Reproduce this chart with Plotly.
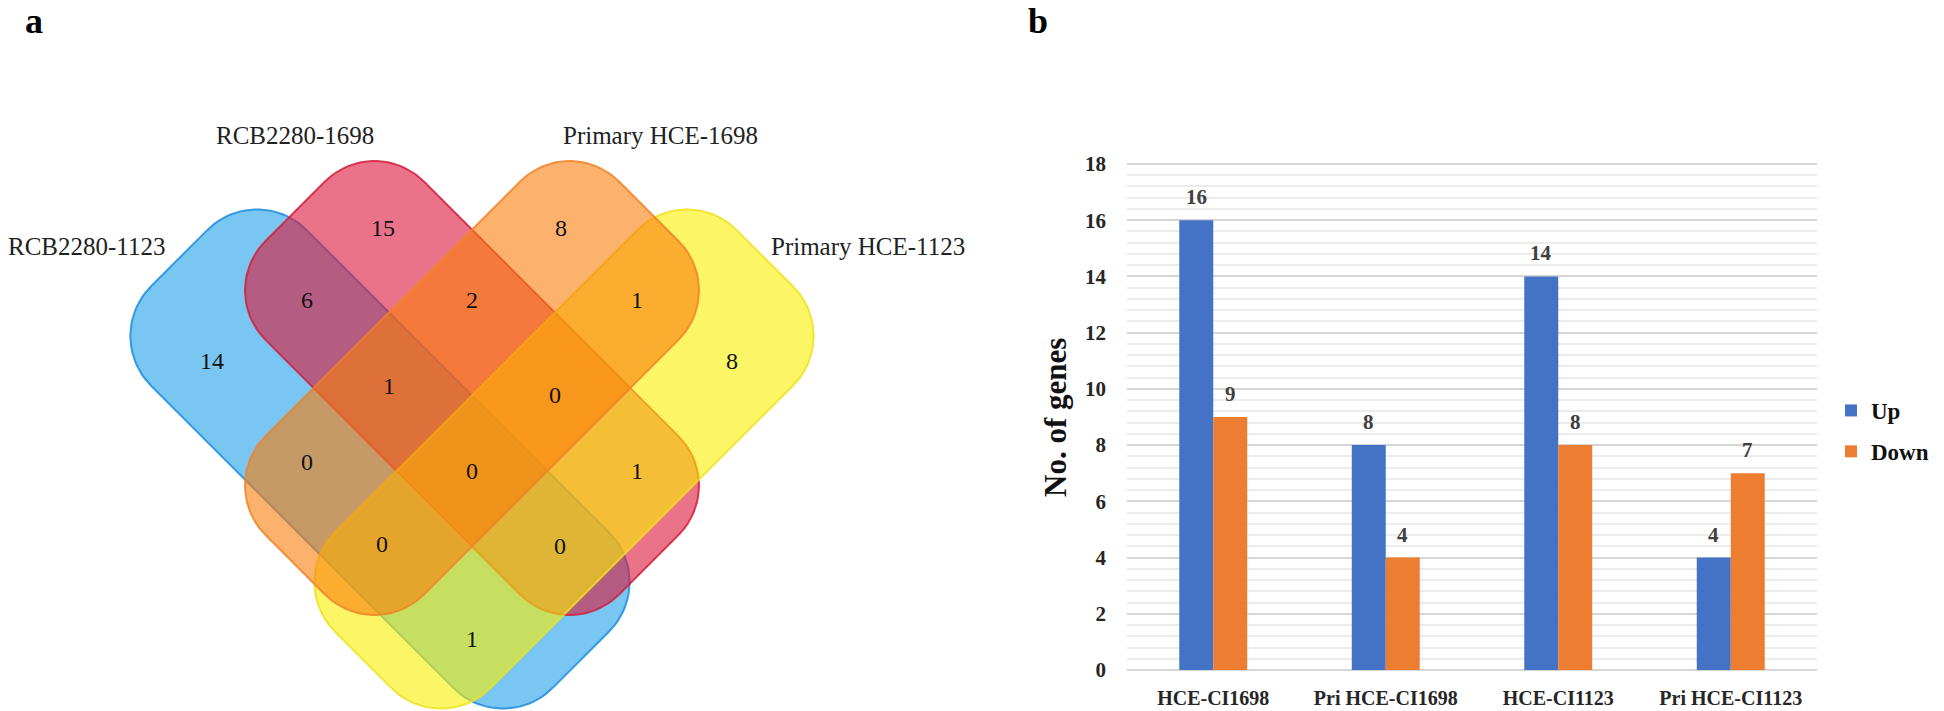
import numpy as np
import plotly.graph_objects as go

# ---------------- data ----------------
categories = ["HCE-CI1698", "Pri HCE-CI1698", "HCE-CI1123", "Pri HCE-CI1123"]
up_values = [16, 8, 14, 4]
down_values = [9, 4, 8, 7]

set_names = ["RCB2280-1123", "RCB2280-1698", "Primary HCE-1698", "Primary HCE-1123"]
# A = RCB2280-1123, B = RCB2280-1698, C = Primary HCE-1698, D = Primary HCE-1123
region_keys = ["A", "B", "C", "D", "AB", "BC", "CD", "ABC", "BCD", "AC",
               "ABCD", "BD", "ACD", "ABD", "AD"]
region_counts = [14, 15, 8, 8, 6, 2, 1, 1, 0, 0, 0, 1, 0, 0, 1]

# ---------------- layout constants (pixels) ----------------
FW, FH = 1944, 711
SERIF = "Liberation Serif"

# Venn shapes: centre x, centre y, half-length, half-width, corner radius, direction, fill, line
venn_shapes = [
    (380, 459, 284, 110, 70, +1, "rgba(30,160,232,0.6)", "rgba(30,140,220,0.85)"),   # A blue
    (472, 388, 250, 112, 70, +1, "rgba(222,22,58,0.6)", "rgba(210,30,60,0.85)"),    # B red
    (564, 459, 284, 110, 70, -1, "rgba(250,240,0,0.6)", "rgba(240,225,30,0.85)"),   # D yellow
    (472, 388, 250, 112, 70, -1, "rgba(250,125,10,0.6)", "rgba(240,130,40,0.85)"),  # C orange
]
region_xy = {
    "A": (212, 363), "B": (383, 230), "C": (561, 230), "D": (732, 363),
    "AB": (307, 302), "BC": (472, 302), "CD": (637, 302), "ABC": (389, 388),
    "BCD": (555, 397), "AC": (307, 464), "ABCD": (472, 473), "BD": (637, 473),
    "ACD": (382, 546), "ABD": (560, 548), "AD": (472, 641),
}
set_label_xy = [(86, 246), (295, 135), (660, 135), (868, 246)]


def rounded_rect(cx, cy, L, W, r, d, n=24):
    pts = []
    corners = [(L - r, W - r, 0), (-(L - r), W - r, 90),
               (-(L - r), -(W - r), 180), (L - r, -(W - r), 270)]
    for ux, vy, a0 in corners:
        for t in np.linspace(a0, a0 + 90, n):
            th = np.radians(t)
            pts.append((ux + r * np.cos(th), vy + r * np.sin(th)))
    pts.append(pts[0])
    eu = np.array([d, 1.0]) / np.sqrt(2)
    ev = np.array([1.0, -d]) / np.sqrt(2)
    xs = [cx + u * eu[0] + v * ev[0] for u, v in pts]
    ys = [cy + u * eu[1] + v * ev[1] for u, v in pts]
    return xs, ys


fig = go.Figure()

# ---------------- Venn ----------------
for cx, cy, L, W, r, d, fc, lc in venn_shapes:
    xs, ys = rounded_rect(cx, cy, L, W, r, d)
    fig.add_trace(go.Scatter(x=xs, y=ys, mode="lines", fill="toself", fillcolor=fc,
                             line=dict(color=lc, width=2), xaxis="x3", yaxis="y3",
                             showlegend=False, hoverinfo="skip"))

fig.add_trace(go.Scatter(
    x=[region_xy[k][0] for k in region_keys],
    y=[region_xy[k][1] for k in region_keys],
    text=[str(c) for c in region_counts], mode="text",
    textfont=dict(family=SERIF, size=24, color="#111111"),
    xaxis="x3", yaxis="y3", showlegend=False, hoverinfo="skip"))

annotations = []
for name, (lx, ly) in zip(set_names, set_label_xy):
    annotations.append(dict(x=lx, y=ly, xref="x3", yref="y3", text=name, showarrow=False,
                            font=dict(family=SERIF, size=25, color="#222222"),
                            xanchor="center", yanchor="middle"))

# ---------------- bars ----------------
fig.add_trace(go.Bar(x=categories, y=up_values, name="<b>Up</b>", marker_color="#4472C4",
                     marker_line_width=0, legendgroup="up", xaxis="x", yaxis="y"))
fig.add_trace(go.Bar(x=categories, y=down_values, name="<b>Down</b>", marker_color="#ED7D31",
                     marker_line_width=0, legendgroup="down", xaxis="x", yaxis="y"))

for i, c in enumerate(categories):
    for vals, shift in ((up_values, -17), (down_values, 17)):
        annotations.append(dict(x=c, y=vals[i], xref="x", yref="y", text="<b>%d</b>" % vals[i],
                                xshift=shift, yshift=23, showarrow=False,
                                font=dict(family=SERIF, size=21, color="#404040"),
                                xanchor="center", yanchor="middle"))

annotations.append(dict(x=1055 / FW, y=1 - 418 / FH, xref="paper", yref="paper",
                        text="<b>No. of genes</b>", textangle=-90, showarrow=False,
                        font=dict(family=SERIF, size=31, color="#111111"),
                        xanchor="center", yanchor="middle"))
annotations.append(dict(x=34 / FW, y=1, xref="paper", yref="paper", text="<b>a</b>",
                        showarrow=False, font=dict(family=SERIF, size=36, color="black"),
                        xanchor="center", yanchor="top", borderpad=0))
annotations.append(dict(x=1038 / FW, y=1, xref="paper", yref="paper", text="<b>b</b>",
                        showarrow=False, font=dict(family=SERIF, size=36, color="black"),
                        xanchor="center", yanchor="top", borderpad=0))

y0px, y18px = 670, 164
ppu = (y0px - y18px) / 18.0
ylo, yhi = -0.1, 18.1
dom_bot = 1 - (y0px - ylo * ppu) / FH
dom_top = 1 - (y18px - (yhi - 18) * ppu) / FH

fig.update_layout(
    width=FW, height=FH, autosize=False,
    margin=dict(l=0, r=0, t=0, b=0, autoexpand=False),
    paper_bgcolor="white", plot_bgcolor="rgba(0,0,0,0)",
    barmode="group", bargap=0.606, bargroupgap=0,
    showlegend=True,
    xaxis=dict(domain=[1127 / FW, 1817 / FW], anchor="y", showgrid=False, showline=False,
               ticks="", zeroline=False, ticklabelstandoff=11,
               tickprefix="<b>", ticksuffix="</b>",
               tickfont=dict(family=SERIF, size=20, color="#262626")),
    yaxis=dict(domain=[dom_bot, dom_top], anchor="x", range=[ylo, yhi], tick0=0, dtick=2,
               showgrid=True, gridcolor="#d6d6d6", gridwidth=2, zeroline=False, showline=False,
               ticks="", ticklabelstandoff=20,
               tickfont=dict(family=SERIF, size=21, color="#262626"),
               tickprefix="<b>", ticksuffix="</b>",
               minor=dict(tick0=0, dtick=0.4, showgrid=True, gridcolor="#ececec", gridwidth=1.5)),
    xaxis3=dict(domain=[0, 1000 / FW], range=[0, 1000], visible=False, anchor="y3"),
    yaxis3=dict(domain=[0, 1], range=[FH, 0], visible=False, anchor="x3"),
    legend=dict(x=1831 / FW, y=1 - 431 / FH, xanchor="left", yanchor="middle",
                font=dict(family=SERIF, size=23, color="#111111"),
                tracegroupgap=8, bgcolor="rgba(0,0,0,0)", itemwidth=30),
    annotations=annotations,
)

fig.write_html("out.html",
               config={"displayModeBar": False},
               post_script="document.body.style.margin='0px';"
                           "document.body.style.padding='0px';"
                           "document.body.style.overflow='hidden';")
